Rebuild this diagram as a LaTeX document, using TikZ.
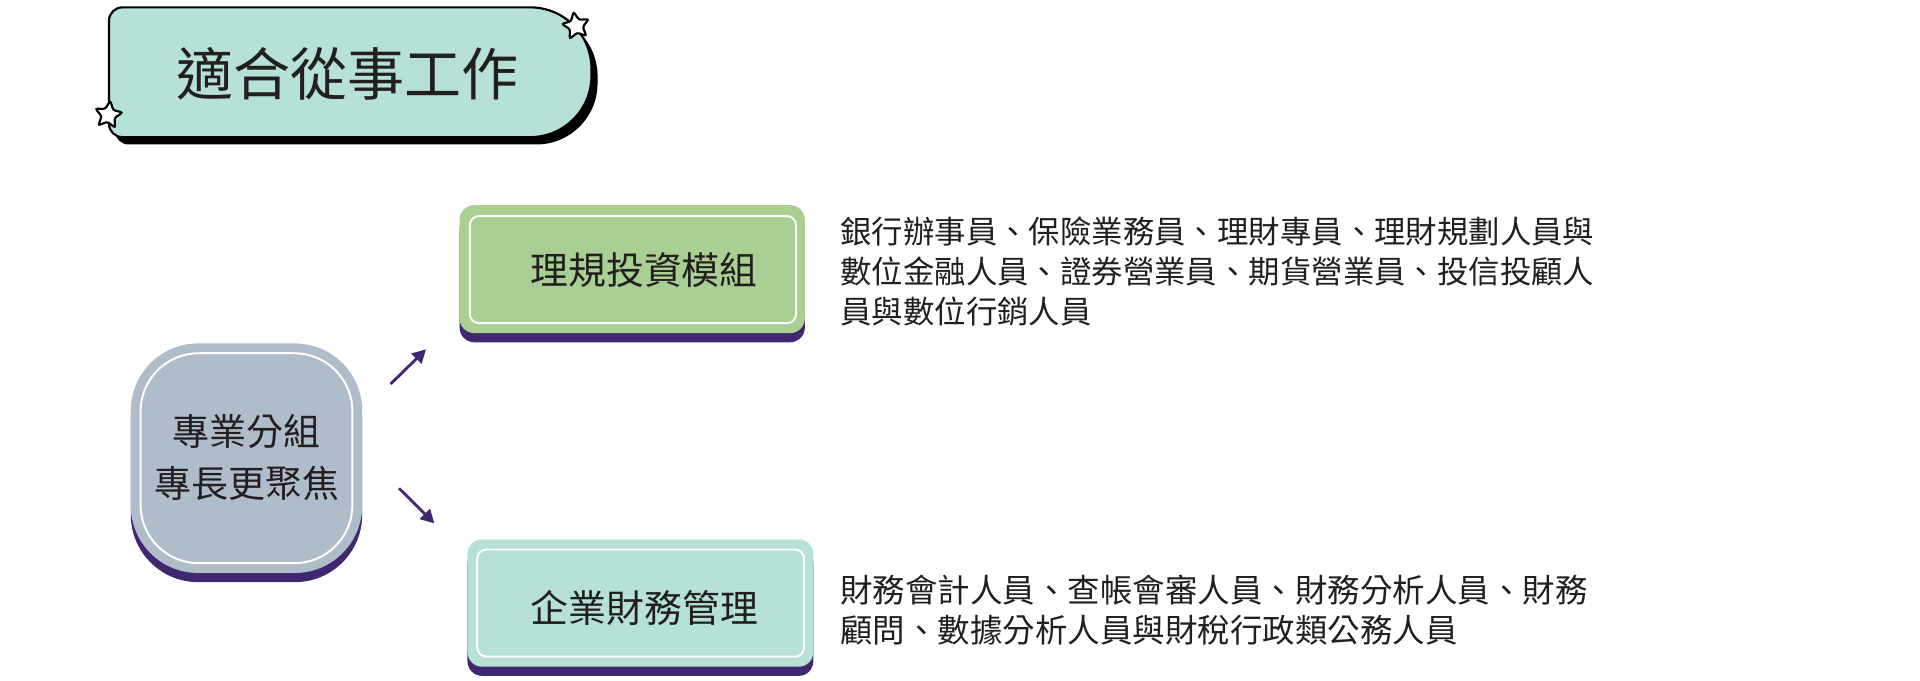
\documentclass[tikz,border=0pt]{standalone}
\usepackage{fontspec}
\newfontfamily\cjk{Noto Sans CJK TC}
\usetikzlibrary{shapes.geometric, shadows, arrows.meta}
\definecolor{darktext}{HTML}{231F20}
\definecolor{darkpurple}{HTML}{3F2870}
\definecolor{boxgray}{HTML}{AFBDCB}
\definecolor{boxgreen}{HTML}{AACF92}
\definecolor{boxteal}{HTML}{B5E1D7}

\begin{document}
\begin{tikzpicture}[x=0.02cm, y=-0.02cm]
    % Stili dei riquadri
    \tikzset{
        group_box/.style={
            draw=none,
            fill=#1, % Sfondo
            rounded corners=0.24cm,
            minimum width=5.64cm, % Larghezza minima
            minimum height=2.09cm, % Altezza minima
            general shadow={fill=darkpurple, shadow yshift=-0.15cm},
            inner sep=0pt,
            outer sep=0pt
        },
        group_border/.style={
            draw=white, % Bordo interno bianco
            line width=0.032cm,
            rounded corners=0.15cm,
            minimum width=5.33cm,
            minimum height=1.75cm,
            inner sep=0pt
        },
        group_text/.style={
            font=\cjk\fontsize{17.6}{21}\selectfont,
            text=darktext,
            inner sep=0pt
        },
        job_text/.style={
            font=\cjk\fontsize{14.6}{18.6}\selectfont,
            text=darktext,
            align=left,
            anchor=west,
            inner sep=0pt
        },
        star_mark/.style={
            star, star points=5, star point ratio=2.1,
            draw=black, fill=white, line width=0.035cm,
            minimum size=0.47cm, inner sep=0pt,
            rounded corners=0.035cm
        },
        job_arrow/.style={
            darkpurple, line width=0.046cm,
            -{Triangle[length=0.22cm, width=0.23cm]}
        },
        title_shape/.style={
            insert path={(89,70) [rounded corners=0.22cm] -- (89,6) -- (300,6)
                [rounded corners=1cm] -- (483,6) -- (483,112) -- (300,112)
                [rounded corners=0.22cm] -- (89,112) -- cycle}
        }
    }

    \useasboundingbox (0,0) rectangle (1568,556.1);
    \fill[white] (0,0) rectangle (1568,556.1);

    % Titolo
    \fill[black, shift={(5,6)}] [title_shape];
    \filldraw[fill=boxteal, draw=black, line width=0.035cm] [title_shape];
    \node[star_mark, rotate=10] (star_tr) at (470.4,21.2) {};
    \node[star_mark, rotate=-8] (star_bl) at (88.5,93.9) {};
    \node[font=\cjk\fontsize{26.5}{30}\selectfont, text=darktext] (title) at (284,60) {適合從事工作};

    % Riquadro a sinistra
    \node[group_box=boxgray, rounded corners=1.1cm, minimum width=3.78cm, minimum height=3.75cm] (focus_box) at (201.3,374.2) {};
    \node[group_border, rounded corners=0.95cm, minimum width=3.46cm, minimum height=3.43cm] (focus_border) at (201.3,374.2) {};
    \node[group_text, font=\cjk\fontsize{17.2}{24}\selectfont, align=center] (focus_text) at (201.5,373.6) {專業分組\\專長更聚焦};

    % Moduli
    \node[group_box=boxgreen] (invest_box) at (516.3,219.8) {};
    \node[group_border] (invest_border) at (516.9,220.2) {};
    \node[group_text] (invest_text) at (526,220.5) {理規投資模組};

    \node[group_box=boxteal, minimum width=5.65cm, minimum height=2.08cm] (finance_box) at (523,492.5) {};
    \node[group_border, minimum width=5.34cm] (finance_border) at (523.2,492.5) {};
    \node[group_text] (finance_text) at (526.4,496.8) {企業財務管理};

    % Elenchi dei lavori
    \node[job_text] (invest_jobs) at (686,221.8) {銀行辦事員、保險業務員、理財專員、理財規劃人員與\\數位金融人員、證券營業員、期貨營業員、投信投顧人\\員與數位行銷人員};
    \node[job_text, font=\cjk\fontsize{15.1}{18.6}\selectfont] (finance_jobs) at (686,498.2) {財務會計人員、查帳會審人員、財務分析人員、財務\\顧問、數據分析人員與財稅行政類公務人員};

    % Frecce
    \coordinate (arrow_up_start) at (319,313.6);
    \coordinate (arrow_up_end) at (347.9,285.3);
    \coordinate (arrow_down_start) at (325.9,398.8);
    \coordinate (arrow_down_end) at (354.7,427.4);
    \draw[job_arrow] (arrow_up_start) -- (arrow_up_end);
    \draw[job_arrow] (arrow_down_start) -- (arrow_down_end);
\end{tikzpicture}
\end{document}
